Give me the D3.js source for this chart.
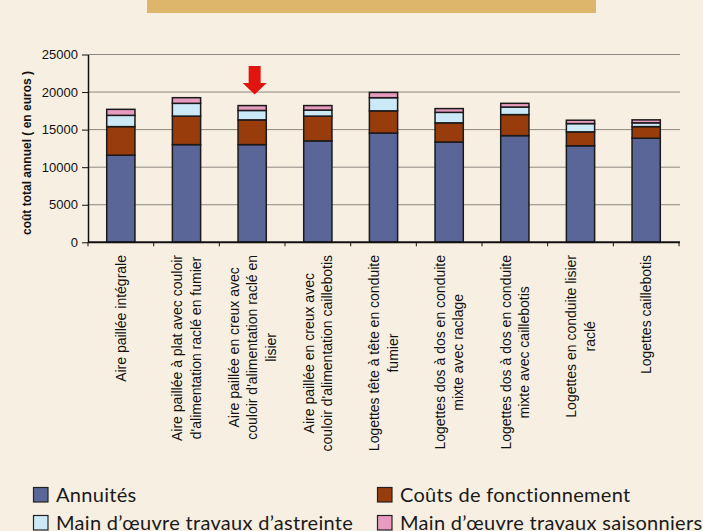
<!DOCTYPE html>
<html>
<head>
<meta charset="utf-8">
<script src="https://cdn.jsdelivr.net/npm/d3@7"></script>
<style>
body{margin:0;background:#f7efe1;}
svg{display:block;}
</style>
</head>
<body>
<svg id="svg_canvas" width="703" height="531"></svg>
<script>
// categories (lines of each rotated label)
var categories=[
	["Aire paillée intégrale"],
	["Aire paillée à plat avec couloir","d'alimentation raclé en fumier"],
	["Aire paillée en creux avec","couloir d'alimentation raclé en","lisier"],
	["Aire paillée en creux avec","couloir d'alimentation caillebotis"],
	["Logettes tête à tête en conduite","fumier"],
	["Logettes dos à dos en conduite","mixte avec raclage"],
	["Logettes dos à dos en conduite","mixte avec caillebotis"],
	["Logettes en conduite lisier","raclé"],
	["Logettes caillebotis"]
];
var series_names=["Annuités","Coûts de fonctionnement","Main d’œuvre travaux d’astreinte","Main d’œuvre travaux saisonniers"];
var annuites=[11600,13000,13000,13500,14550,13350,14200,12850,13850];
var couts=[3800,3800,3300,3300,2950,2550,2800,1850,1550];
var astreinte=[1500,1700,1250,800,1750,1400,1000,1100,500];
var saisonniers=[800,750,650,600,700,500,500,450,400];
var y_ticks=[0,5000,10000,15000,20000,25000];
var highlighted=2; // red arrow over this bar

var colors=["#5a6698","#983c0c","#cce9f7","#e79cbf"];

var svg=d3.select("#svg_canvas");
var left_x=88, right_x=679, top_y=54.5, bottom_y=242.3;

// banner at top
svg.append("rect").attr("x",147).attr("y",0).attr("width",449).attr("height",13).attr("fill","#ddb66b");

var x=d3.scaleBand().domain(d3.range(categories.length)).range([left_x,right_x]).paddingInner(0.57).paddingOuter(0.285);
var y=d3.scaleLinear().domain([0,25000]).range([bottom_y,top_y]);

// gridlines
svg.append("g").selectAll("line").data(y_ticks.slice(1)).enter().append("line")
	.attr("x1",left_x).attr("x2",right_x+1)
	.attr("y1",function(d){return y(d);}).attr("y2",function(d){return y(d);})
	.attr("stroke","#8c8780").attr("stroke-width",1);

// y axis
var yAxis=svg.append("g").attr("transform","translate("+left_x+",0)")
	.call(d3.axisLeft(y).tickValues(y_ticks).tickFormat(d3.format("d")).tickSize(6).tickSizeOuter(0).tickPadding(4));
yAxis.attr("font-family","Liberation Sans, Arial").attr("font-size",13);
yAxis.select(".domain").attr("stroke","#111").attr("stroke-width",1.5);
yAxis.selectAll(".tick line").attr("stroke","#111");
yAxis.selectAll("text").attr("fill","#111");

svg.append("text")
	.attr("transform","translate(31,153) rotate(-90)")
	.attr("text-anchor","middle")
	.attr("font-family","Liberation Sans, Arial").attr("font-weight","bold").attr("font-size","12px").attr("fill","#111")
	.text("coût total annuel ( en euros )");

// stacked data
var table=annuites.map(function(v,i){
	return {s0:annuites[i],s1:couts[i],s2:astreinte[i],s3:saisonniers[i]};
});
var stack=d3.stack().keys(["s0","s1","s2","s3"])(table);

svg.append("g").selectAll("g").data(stack).enter().append("g")
	.attr("fill",function(d,i){return colors[i];})
	.selectAll("rect").data(function(d){return d;}).enter().append("rect")
		.attr("x",function(d,i){return x(i);})
		.attr("width",x.bandwidth())
		.attr("y",function(d){return y(d[1]);})
		.attr("height",function(d){return y(d[0])-y(d[1]);})
		.attr("stroke","#1a1a1a").attr("stroke-width",1.5);

// x axis line and ticks at band boundaries
var boundaries=d3.range(categories.length+1).map(function(i){return left_x+i*x.step();});
svg.append("g").selectAll("line").data(boundaries).enter().append("line")
	.attr("x1",function(d){return d;}).attr("x2",function(d){return d;})
	.attr("y1",bottom_y).attr("y2",bottom_y+4)
	.attr("stroke","#111").attr("stroke-width",1);
svg.append("line").attr("x1",left_x).attr("x2",right_x+1).attr("y1",bottom_y).attr("y2",bottom_y)
	.attr("stroke","#111").attr("stroke-width",2);

// rotated category labels
var line_h=18.5;
categories.forEach(function(lines,i){
	var cx=x(i)+x.bandwidth()/2;
	var g=svg.append("g");
	var t=g.append("text").attr("text-anchor","middle")
		.attr("font-family","Liberation Sans, Arial").attr("font-size","14px").attr("fill","#111");
	lines.forEach(function(l,j){
		t.append("tspan").attr("x",0).attr("y",(j-(lines.length-1)/2)*line_h+5).text(l);
	});
	var max_len=d3.max(t.selectAll("tspan").nodes(),function(n){return n.getComputedTextLength();});
	g.attr("transform","translate("+cx+","+(255+max_len/2)+") rotate(-90)");
});

// red arrow
var ax=x(highlighted)+x.bandwidth()/2+2.5;
svg.append("path")
	.attr("d","M"+(ax-6)+",66 L"+(ax+6)+",66 L"+(ax+6)+",83 L"+(ax+12)+",83 L"+ax+",94.5 L"+(ax-12)+",83 L"+(ax-6)+",83 Z")
	.attr("fill","#e2140f");

// legend
var legend_pos=[[33,487],[377,487],[33,515],[377,515]];
series_names.forEach(function(name,i){
	var g=svg.append("g").attr("transform","translate("+legend_pos[i][0]+","+legend_pos[i][1]+")");
	g.append("rect").attr("x",0.5).attr("y",0.5).attr("width",14.5).attr("height",14.5)
		.attr("fill",colors[i]).attr("stroke","#222").attr("stroke-width",1.2);
	g.append("text").attr("x",23).attr("y",15)
		.attr("font-family","Lato, Open Sans, sans-serif").attr("font-size","20px").attr("letter-spacing","0.3px").attr("fill","#1a1a1a")
		.text(name);
});
</script>
</body>
</html>
